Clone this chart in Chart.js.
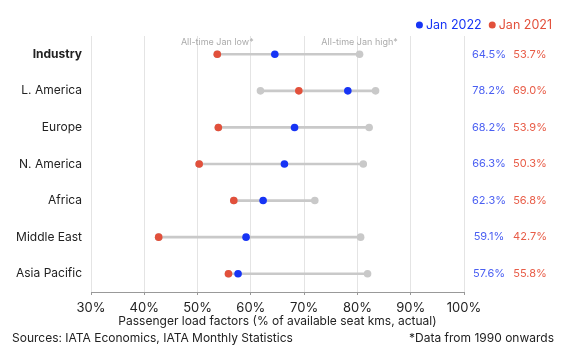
<!DOCTYPE html>
<html>
<head>
<meta charset="utf-8">
<script src="https://cdn.jsdelivr.net/npm/chart.js@4/dist/chart.umd.min.js"></script>
<style>
  html, body { margin: 0; padding: 0; background: #fff; }
  #c { display: block; }
</style>
</head>
<body>
<canvas id="c" width="561" height="347" style="width:561px;height:347px"></canvas>
<script>
const regions = ['Industry', 'L. America', 'Europe', 'N. America', 'Africa', 'Middle East', 'Asia Pacific'];
const jan2022 = [64.5, 78.2, 68.2, 66.3, 62.3, 59.1, 57.6];
const jan2021 = [53.7, 69.0, 53.9, 50.3, 56.8, 42.7, 55.8];
const allTimeLow = [53.7, 61.8, 53.9, 50.3, 56.8, 42.7, 55.8];
const allTimeHigh = [80.4, 83.4, 82.2, 81.1, 72.0, 80.6, 81.9];
const xTicks = [30, 40, 50, 60, 70, 80, 90, 100];

const BLUE = '#1734f5';
const RED = '#e2503b';
const GREY = '#c9c9c9';
const FONT = 'Inter, "DejaVu Sans", sans-serif';

// extra text: legend, value columns, annotations, footer
const extras = {
  id: 'extras',
  afterDraw(chart) {
    const { ctx } = chart;
    const x = chart.scales.x;
    const y = chart.scales.y;
    ctx.save();
    ctx.textBaseline = 'middle';

    // legend, laid out from the right edge
    ctx.font = '12.5px ' + FONT;
    ctx.textAlign = 'left';
    let right = 552;
    [['Jan 2021', RED], ['Jan 2022', BLUE]].forEach(([txt, col]) => {
      const w = ctx.measureText(txt).width;
      const tx = right - w;
      ctx.fillStyle = col;
      ctx.fillText(txt, tx, 25);
      ctx.beginPath(); ctx.arc(tx - 6.5, 25, 3.5, 0, Math.PI * 2); ctx.fill();
      right = tx - 17;
    });

    // value columns
    ctx.font = '11px ' + FONT;
    ctx.textAlign = 'center';
    regions.forEach((r, i) => {
      const py = y.getPixelForValue(i);
      ctx.fillStyle = '#4a5ff2';
      ctx.fillText(jan2022[i].toFixed(1) + '%', 489, py);
      ctx.fillStyle = '#e85c47';
      ctx.fillText(jan2021[i].toFixed(1) + '%', 530, py);
    });

    // annotations above Industry row
    ctx.font = '9px ' + FONT;
    ctx.fillStyle = '#ababab';
    const y0 = y.getPixelForValue(0) - 12;
    ctx.fillText('All-time Jan low*', x.getPixelForValue(allTimeLow[0]), y0);
    ctx.fillText('All-time Jan high*', x.getPixelForValue(allTimeHigh[0]), y0);

    // footer
    ctx.font = '12px ' + FONT;
    ctx.fillStyle = '#222';
    ctx.textAlign = 'left';
    ctx.fillText('Sources: IATA Economics, IATA Monthly Statistics', 12, 338);
    ctx.textAlign = 'right';
    ctx.fillText('*Data from 1990 onwards', 554, 338);
    ctx.restore();
  }
};

const dots = (label, data, color, order) => ({
  type: 'line',
  label,
  data,
  showLine: false,
  pointRadius: 3.8,
  pointHoverRadius: 3.8,
  pointBackgroundColor: color,
  pointBorderWidth: 0,
  borderColor: color,
  order
});

new Chart(document.getElementById('c'), {
  type: 'bar',
  data: {
    labels: regions,
    datasets: [
      {
        label: 'Range',
        data: regions.map((r, i) => [allTimeLow[i], allTimeHigh[i]]),
        backgroundColor: GREY,
        barThickness: 2,
        order: 10
      },
      dots('All-time Jan high', allTimeHigh, GREY, 8),
      dots('All-time Jan low', allTimeLow, GREY, 7),
      dots('Jan 2021', jan2021, RED, 2),
      dots('Jan 2022', jan2022, BLUE, 1)
    ]
  },
  options: {
    indexAxis: 'y',
    responsive: false,
    animation: false,
    layout: { padding: { top: 36, right: 97, bottom: 18, left: 0 } },
    plugins: { legend: { display: false }, tooltip: { enabled: false } },
    scales: {
      x: {
        type: 'linear',
        min: 30,
        max: 100,
        afterBuildTicks: (scale) => { scale.ticks = xTicks.map(v => ({ value: v })); },
        afterFit: (scale) => { scale.height = 37; },
        ticks: {
          callback: (v) => v + '%',
          font: { family: FONT, size: 13 },
          color: '#222',
          padding: 5
        },
        grid: { color: '#e4e4e4', tickColor: '#999', tickLength: 3 },
        border: { display: true, color: '#999' },
        title: {
          display: true,
          text: 'Passenger load factors (% of available seat kms, actual)',
          font: { family: FONT, size: 12 },
          color: '#222',
          padding: { top: 1, bottom: 0 }
        }
      },
      y: {
        type: 'category',
        offset: true,
        afterFit: (scale) => { scale.width = 91; },
        grid: { display: false, drawTicks: false },
        border: { display: false },
        ticks: {
          color: '#222',
          padding: 9,
          font: (c) => ({ family: FONT, size: 12, weight: c.index === 0 ? 'bold' : 'normal' })
        }
      }
    }
  },
  plugins: [extras]
});
</script>
</body>
</html>
